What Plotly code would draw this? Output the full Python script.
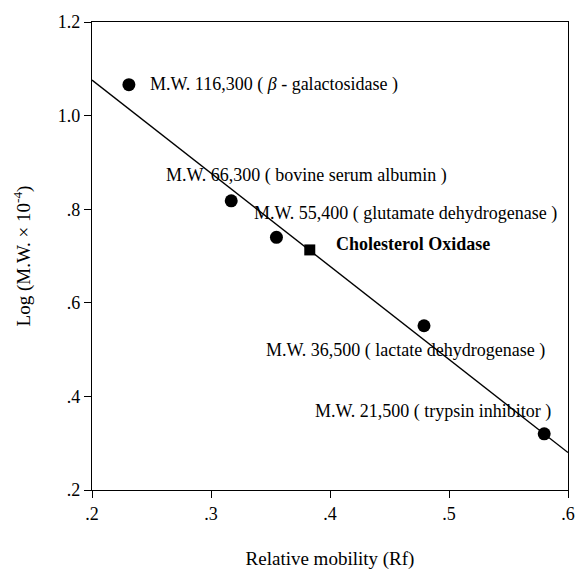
import plotly.graph_objects as go

# Marker proteins: relative mobility (Rf) and log(M.W. x 10^-4)
marker_names = [
    "M.W. 116,300 ( <i>β</i> - galactosidase )",
    "M.W. 66,300 ( bovine serum albumin )",
    "M.W. 55,400 ( glutamate dehydrogenase )",
    "M.W. 36,500 ( lactate dehydrogenase )",
    "M.W. 21,500 ( trypsin inhibitor )",
]
marker_rf = [0.231, 0.317, 0.355, 0.479, 0.580]
marker_logmw = [1.066, 0.818, 0.740, 0.551, 0.320]

# Unknown protein
sample_name = "<b>Cholesterol Oxidase</b>"
sample_rf = [0.383]
sample_logmw = [0.713]

# Calibration line endpoints
fit_rf = [0.2, 0.6]
fit_logmw = [1.076, 0.280]

x_ticks = [0.2, 0.3, 0.4, 0.5, 0.6]
x_tick_text = [".2", ".3", ".4", ".5", ".6"]
y_ticks = [0.2, 0.4, 0.6, 0.8, 1.0, 1.2]
y_tick_text = [".2", ".4", ".6", ".8", "1.0", "1.2"]

FONT = "Liberation Serif, Times New Roman, serif"

fig = go.Figure()

fig.add_trace(go.Scatter(
    x=fit_rf, y=fit_logmw, mode="lines",
    line=dict(color="black", width=1.4), hoverinfo="skip", showlegend=False,
))
fig.add_trace(go.Scatter(
    x=marker_rf, y=marker_logmw, mode="markers",
    marker=dict(symbol="circle", size=13, color="black"),
    showlegend=False,
))
fig.add_trace(go.Scatter(
    x=sample_rf, y=sample_logmw, mode="markers",
    marker=dict(symbol="square", size=11, color="black"),
    showlegend=False,
))

# label offsets (pixels) from each marker point
label_shift = [(19, 0), (-67, 25), (-24, 24), (-160, -25), (-231, 22)]
for name, xv, yv, (dx, dy) in zip(marker_names, marker_rf, marker_logmw, label_shift):
    fig.add_annotation(
        x=xv, y=yv, text=name, showarrow=False,
        xanchor="left", yanchor="middle", xshift=dx, yshift=dy,
        font=dict(family=FONT, size=18, color="black"),
    )
fig.add_annotation(
    x=sample_rf[0], y=sample_logmw[0], text=sample_name, showarrow=False,
    xanchor="left", yanchor="middle", xshift=24, yshift=6,
    font=dict(family=FONT, size=18, color="black"),
)

axis_common = dict(
    showgrid=False, zeroline=False, showline=True, mirror=True,
    linecolor="black", linewidth=1.4,
    ticks="outside", ticklen=7, tickwidth=1.2, tickcolor="black",
    tickfont=dict(family=FONT, size=18, color="black"),
)

fig.update_xaxes(
    range=[0.2, 0.6], tickvals=x_ticks, ticktext=x_tick_text,
    title=dict(text="Relative mobility (Rf)", font=dict(family=FONT, size=19, color="black"), standoff=28),
    **axis_common,
)
fig.update_yaxes(
    range=[0.2, 1.2], tickvals=y_ticks, ticktext=y_tick_text,
    title=dict(text="Log (M.W. × 10<sup>-4</sup>)", font=dict(family=FONT, size=19, color="black"), standoff=22),
    **axis_common,
)

fig.update_layout(
    width=587, height=577,
    margin=dict(l=92, r=14, t=16, b=84),
    plot_bgcolor="white", paper_bgcolor="white",
    showlegend=False,
)

fig.write_html("out.html")
